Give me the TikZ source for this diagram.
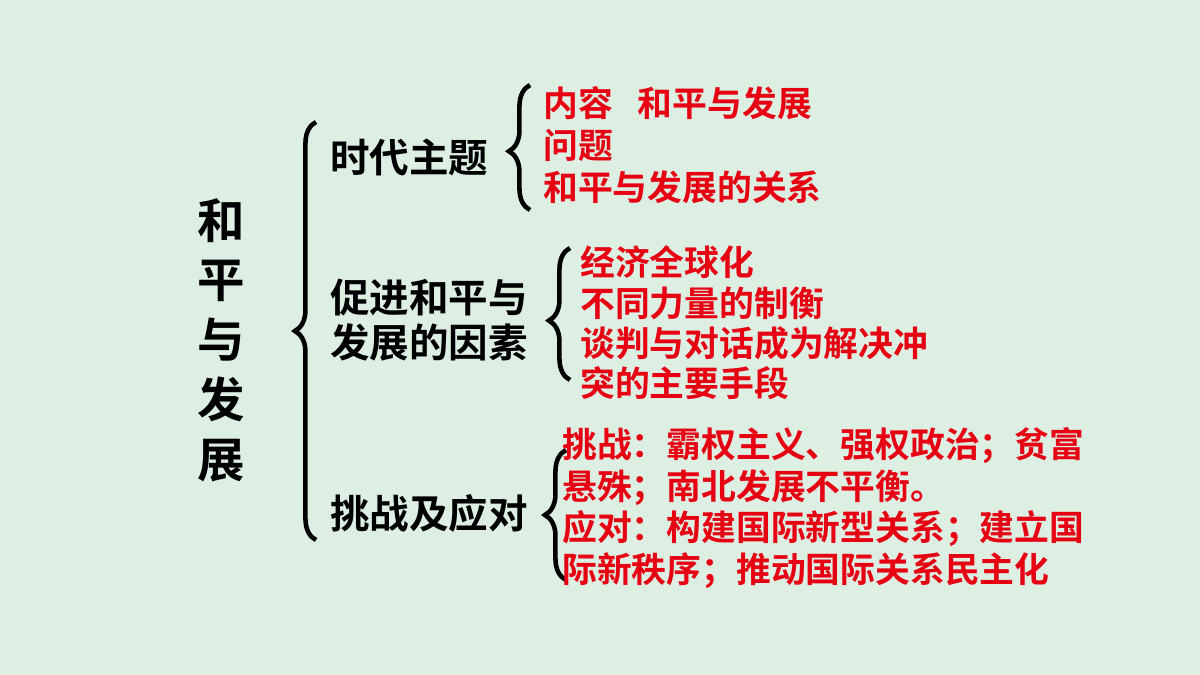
\documentclass[tikz,border=0pt]{standalone}
\usepackage{fontspec}
\newfontfamily\cjk{Noto Sans CJK SC Bold}
\usetikzlibrary{decorations.pathreplacing}
\definecolor{bg}{HTML}{DDEFE3}
\definecolor{rd}{HTML}{E60012}
\tikzset{
  br/.style={decorate,decoration={brace,amplitude=12pt,aspect=#1},line width=2.6pt},
  lvl/.style={anchor=west,font=\cjk\fontsize{22.5}{25.6}\selectfont,inner sep=0pt,align=left},
  itm/.style={anchor=west,font=\cjk\fontsize{19.8}{23}\selectfont,text=rd,inner sep=0pt,align=left},
  itmb/.style={itm,font=\cjk\fontsize{19.8}{23.8}\selectfont},
}
\begin{document}
\begin{tikzpicture}[x=0.02cm,y=-0.02cm]
\fill[bg] (0,0) rectangle (1200,675);
\node[font=\cjk\fontsize{27}{34}\selectfont,align=center,inner sep=0pt] (t) at (221,340) {和\\平\\与\\发\\展};
\draw[br=0.5] (316,540) -- (316,122);
\node[lvl] (a) at (330,157) {时代主题};
\node[lvl] (b) at (330,320) {促进和平与\\发展的因素};
\node[lvl] (c) at (330,513) {挑战及应对};
\draw[br=0.47] (530,210) -- (530,85);
\node[itm] (a1) at (543,103) {内容\hspace{0.5cm}和平与发展};
\node[itm] (a2) at (543,145) {问题};
\node[itm] (a3) at (543,187) {和平与发展的关系};
\draw[br=0.45] (570,380) -- (570,248);
\node[itm] (b1) at (580,323) {经济全球化\\不同力量的制衡\\谈判与对话成为解决冲\\突的主要手段};
\draw[br=0.5] (566,580) -- (566,450);
\node[itmb] (c1) at (562,508) {挑战：霸权主义、强权政治；贫富\\悬殊；南北发展不平衡。\\应对：构建国际新型关系；建立国\\际新秩序；推动国际关系民主化};
\end{tikzpicture}
\end{document}
